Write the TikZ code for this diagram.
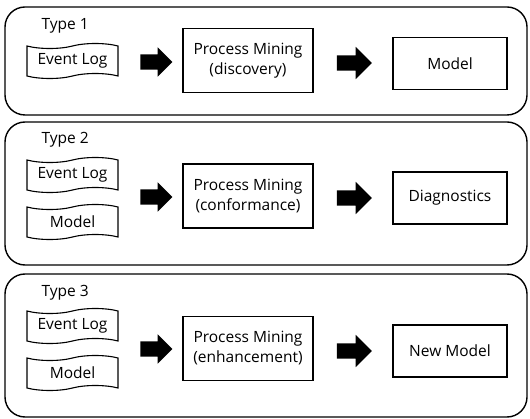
\documentclass[tikz,border=0pt]{standalone}
\usepackage{fontspec}
\setmainfont{Open Sans}
\usetikzlibrary{shapes.symbols, shapes.arrows}

\begin{document}
\begin{tikzpicture}[x=1pt, y=-1pt,
  every node/.style={font=\fontsize{15.5}{20}\selectfont},
  panel/.style={draw, line width=1.4pt, rounded corners=20pt},
  doc/.style={tape, draw, line width=1.1pt, minimum width=91pt, minimum height=35pt, inner sep=0pt, tape bend height=5pt},
  pmbox/.style={draw, line width=1.3pt, minimum width=130pt, minimum height=64pt, align=center},
  outbox/.style={draw, line width=1.3pt, minimum width=114pt, minimum height=52pt},
  fatarrow/.style={single arrow, fill=black, inner sep=7.5pt, single arrow head extend=7pt, minimum height=32pt}]
  \useasboundingbox (0,0) rectangle (530,419);

  % Type 1
  \draw[panel] (5,7) rectangle (527,115);
  \node[anchor=west] (type1) at (38,26) {Type 1};
  \node[doc] (log1) at (72.5,61) {Event Log};
  \node[fatarrow] (arrA1) at (152.5,62) {};
  \node[pmbox] (pm1) at (248,60.5) {Process Mining\\(discovery)};
  \node[fatarrow, minimum height=35pt, single arrow head extend=8.5pt] (arrB1) at (350.5,63) {};
  \node[outbox] (out1) at (450,63.5) {Model};

  % Type 2
  \draw[panel] (5,122) rectangle (527,265);
  \node[anchor=west] (type2) at (38,140) {Type 2};
  \node[doc] (log2) at (72.5,175) {Event Log};
  \node[doc] (model2) at (72.5,222) {Model};
  \node[fatarrow] (arrA2) at (152.5,197) {};
  \node[pmbox] (pm2) at (248,196) {Process Mining\\(conformance)};
  \node[fatarrow, minimum height=35pt, single arrow head extend=8.5pt] (arrB2) at (350.5,198) {};
  \node[outbox] (out2) at (450,198) {Diagnostics};

  % Type 3
  \draw[panel] (5,274) rectangle (527,417);
  \node[anchor=west] (type3) at (38,293) {Type 3};
  \node[doc] (log3) at (72.5,326) {Event Log};
  \node[doc] (model3) at (72.5,373) {Model};
  \node[fatarrow] (arrA3) at (152.5,349) {};
  \node[pmbox] (pm3) at (248,348.5) {Process Mining\\(enhancement)};
  \node[fatarrow, minimum height=35pt, single arrow head extend=8.5pt] (arrB3) at (350.5,351) {};
  \node[outbox] (out3) at (450,351) {New Model};
\end{tikzpicture}
\end{document}
